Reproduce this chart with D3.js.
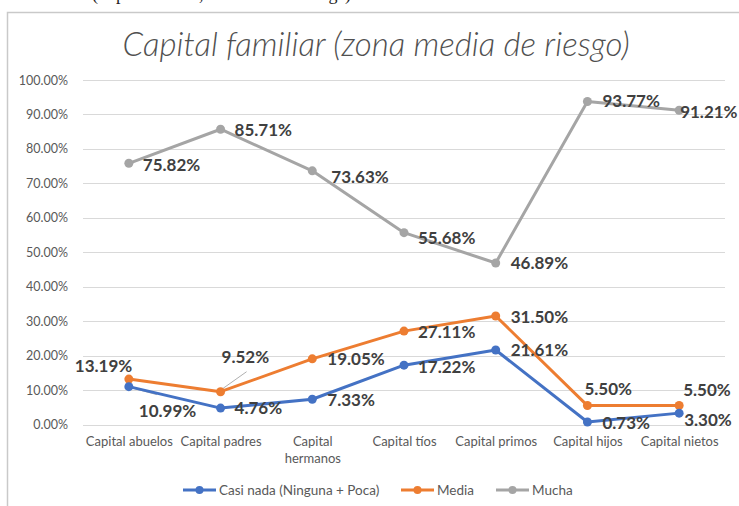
<!DOCTYPE html>
<html><head><meta charset="utf-8">
<script src="https://cdn.jsdelivr.net/npm/d3@7"></script>
<style>
html,body{margin:0;padding:0;background:#fff;}
svg{display:block;font-family:Lato,"Open Sans",sans-serif;}
</style></head>
<body>
<svg id="c" width="739" height="506"></svg>
<script>
const categories = ["Capital abuelos","Capital padres","Capital hermanos","Capital tíos","Capital primos","Capital hijos","Capital nietos"];
const seriesNames = ["Casi nada (Ninguna + Poca)","Media","Mucha"];
const casiNada = [10.99, 4.76, 7.33, 17.22, 21.61, 0.73, 3.30];
const media = [13.19, 9.52, 19.05, 27.11, 31.50, 5.50, 5.50];
const mucha = [75.82, 85.71, 73.63, 55.68, 46.89, 93.77, 91.21];
const yTicks = [0,10,20,30,40,50,60,70,80,90,100];
const title = "Capital familiar (zona media de riesgo)";

const colors = ["#4472C4","#ED7D31","#A5A5A5"];
// label placements (dx, dy baseline from point; anchor start)
const labelOffsets = [
  [[10,30],[14,6],[15,7],[14,8],[15,6],[15,7],[5,13]],
  [[-54,-7],[1,-29],[15,6],[14,7],[15,7],[-3,-11],[4,-10]],
  [[14,8],[14,7],[19,12],[14,11],[15,6],[15,6],[1,8]]
];
// leader lines: [series, index, dx1, dy1, dx2, dy2] relative to point
const leaders = [[1,1,2,-3,26,-20],[0,0,2,1,28,8]];

const svg = d3.select("#c");
const x = d3.scalePoint().domain(categories).range([83,725]).padding(0.5);
const y = d3.scaleLinear().domain([0,100]).range([424.5,80]);

// cut-off caption above chart
svg.append("text").attr("x",92).attr("y",0).attr("font-family","Liberation Serif").attr("font-size",18)
  .attr("fill","#222").attr("textLength",259).text("(Capital familiar, zona media de riesgo)");

// frame
svg.append("path").attr("d","M7.5,520 V12.5 H745").attr("fill","none").attr("stroke","#c9c9c9").attr("stroke-width",1.5);

// title
svg.append("text").attr("x",376).attr("y",56).attr("text-anchor","middle")
  .attr("font-size",33).attr("font-style","italic").attr("font-weight",300).attr("fill","#505050").text(title);

// grid
svg.append("g").selectAll("line").data(yTicks).join("line")
  .attr("x1",83).attr("x2",725).attr("y1",d=>Math.round(y(d))+0.5).attr("y2",d=>Math.round(y(d))+0.5)
  .attr("stroke","#d9d9d9").attr("stroke-width",1);

// y axis
const ya = svg.append("g").attr("transform","translate(68,0)")
  .call(d3.axisLeft(y).tickValues(yTicks).tickSize(0).tickPadding(0).tickFormat(d=>d3.format(".2f")(d)+"%"));
ya.select(".domain").remove();
ya.selectAll("text").attr("font-size",12.5).attr("fill","#595959").attr("font-family","Lato,sans-serif");

// x axis labels
const xa = svg.append("g").attr("transform","translate(0,437)")
  .call(d3.axisBottom(x).tickSize(0).tickPadding(0));
xa.select(".domain").remove();
xa.selectAll("text").attr("font-size",13).attr("fill","#595959").attr("font-family","Lato,sans-serif")
  .each(function(d){
    const t = d3.select(this);
    if (x.step() < this.getComputedTextLength()+2 || d==="Capital hermanos") {
      const words = d.split(" ");
      t.text(null);
      words.forEach((w,i)=>t.append("tspan").attr("x",0).attr("dy",i===0?"0.71em":"1.3em").text(w));
    }
  });

const data = [casiNada, media, mucha];
const line = d3.line().x((d,i)=>x(categories[i])).y(d=>y(d));

// leader lines
leaders.forEach(([s,i,a,b,c,e])=>{
  const px = x(categories[i]), py = y(data[s][i]);
  svg.append("line").attr("x1",px+a).attr("y1",py+b).attr("x2",px+c).attr("y2",py+e)
    .attr("stroke","#a6a6a6").attr("stroke-width",0.9);
});

[2,1,0].forEach(s=>{
  const g = svg.append("g");
  g.append("path").datum(data[s]).attr("d",line).attr("fill","none")
    .attr("stroke",colors[s]).attr("stroke-width",3).attr("stroke-linejoin","round").attr("stroke-linecap","round");
  g.selectAll("circle").data(data[s]).join("circle")
    .attr("cx",(d,i)=>x(categories[i])).attr("cy",d=>y(d)).attr("r",4.5).attr("fill",colors[s]);
});

// data labels
[2,1,0].forEach(s=>{
  svg.append("g").selectAll("text").data(data[s]).join("text")
    .attr("x",(d,i)=>x(categories[i])+labelOffsets[s][i][0])
    .attr("y",(d,i)=>y(d)+labelOffsets[s][i][1])
    .attr("font-size",17).attr("font-weight",700).attr("fill","#404040")
    .text(d=>d3.format(".2f")(d)+"%");
});

// legend
const legendX = [183,401,496];
const lg = svg.append("g").attr("transform","translate(0,490)");
seriesNames.forEach((n,s)=>{
  const gx = legendX[s];
  lg.append("line").attr("x1",gx).attr("x2",gx+33).attr("y1",0).attr("y2",0).attr("stroke",colors[s]).attr("stroke-width",3);
  lg.append("circle").attr("cx",gx+16.5).attr("cy",0).attr("r",4).attr("fill",colors[s]);
  lg.append("text").attr("x",gx+36).attr("y",5).attr("font-size",13.5).attr("fill","#595959").text(n);
});
</script>
</body></html>
